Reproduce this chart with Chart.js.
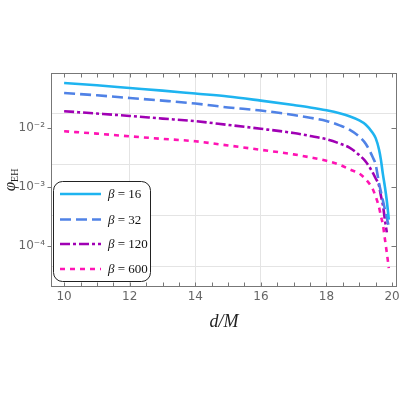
<!DOCTYPE html>
<html><head><meta charset="utf-8">
<script src="https://cdn.jsdelivr.net/npm/chart.js@4/dist/chart.umd.min.js"></script>
<style>html,body{margin:0;padding:0;background:#fff;}#wrap{width:400px;height:400px;}</style>
</head><body><div id="wrap"><canvas id="c" width="400" height="400"></canvas></div>
<script>
// ---- data ----
const distances   = [10, 11, 12, 13, 14, 15, 16, 17, 17.5, 18, 18.4, 18.7, 19.0, 19.2, 19.4, 19.5, 19.6, 19.66, 19.72, 19.78, 19.84, 19.9];
const phiBeta16   = [0.0589, 0.0537, 0.0484, 0.0437, 0.0389, 0.0347, 0.0295, 0.0248, 0.0226, 0.0202, 0.0180, 0.0160, 0.0136, 0.0115, 0.0085, 0.0068, 0.0044, 0.0029, 0.00166, 0.00102, 0.00058, 0.00028];
const phiBeta32   = [0.0398, 0.0363, 0.0327, 0.0295, 0.0263, 0.0226, 0.0200, 0.0168, 0.0151, 0.0133, 0.0112, 0.0095, 0.0072, 0.0054, 0.0033, 0.0024, 0.00117, 0.00083, 0.00059, 0.00042, 0.00030, 0.00021];
const phiBeta120  = [0.0195, 0.0178, 0.0162, 0.0146, 0.0132, 0.0114, 0.0098, 0.0083, 0.0074, 0.0065, 0.0055, 0.0047, 0.0035, 0.0027, 0.0018, 0.0014, 0.00107, 0.00071, 0.00050, 0.00028, 0.00017, null];
const phiBeta600  = [0.0089, 0.0081, 0.0073, 0.0066, 0.0060, 0.0051, 0.0043, 0.0036, 0.0032, 0.0028, 0.0024, 0.0020, 0.0017, 0.00135, 0.00095, 0.00069, 0.00046, 0.00032, 0.00023, 0.000132, 0.000076, 0.000042];
const betaLabels  = ['16', '32', '120', '600'];
const xTickValues = [10, 12, 14, 16, 18, 20];
const xGridValues = [12, 14, 16, 18];
const yTickValues = [1e-4, 1e-3, 1e-2];
const yTickLabels = ['10⁻⁴', '10⁻³', '10⁻²'];
const yGridValues = [0.018, 0.0025, 0.00034, 0.000046];
const xMinorTicks = [10, 10.5, 11, 11.5, 12, 12.5, 13, 13.5, 14, 14.5, 15, 15.5, 16, 16.5, 17, 17.5, 18, 18.5, 19, 19.5, 20];

const seriesValues = [phiBeta16, phiBeta32, phiBeta120, phiBeta600];
const styles = [
  {color: 'rgb(30,180,240)', dash: []},
  {color: 'rgb(80,130,230)', dash: [11, 5]},
  {color: 'rgb(160,0,180)', dash: [10, 3, 3, 3]},
  {color: 'rgb(255,20,180)', dash: [5, 5]}
];

const datasets = seriesValues.map((vals, k) => ({
  label: betaLabels[k],
  data: distances.map((d, i) => ({x: d, y: vals[i]})),
  borderColor: styles[k].color,
  backgroundColor: styles[k].color,
  borderDash: styles[k].dash,
  borderWidth: 2.6,
  borderCapStyle: 'butt',
  pointRadius: 0,
  fill: false,
  cubicInterpolationMode: 'monotone'
}));

const gridPlugin = {
  id: 'ygrid',
  beforeDatasetsDraw(chart) {
    const {ctx, chartArea: a, scales: {y}} = chart;
    ctx.save();
    ctx.strokeStyle = '#e4e4e4';
    ctx.lineWidth = 1;
    yGridValues.forEach(v => {
      const py = Math.round(y.getPixelForValue(v)) + 0.5;
      ctx.beginPath(); ctx.moveTo(a.left, py); ctx.lineTo(a.right, py); ctx.stroke();
    });
    ctx.restore();
  }
};

const legendPlugin = {
  id: 'boxLegend',
  afterDatasetsDraw(chart) {
    const ctx = chart.ctx;
    const bx = 53.5, by = 181.5, bw = 97, bh = 100, r = 9;
    ctx.save();
    ctx.beginPath();
    ctx.moveTo(bx + r, by);
    ctx.arcTo(bx + bw, by, bx + bw, by + bh, r);
    ctx.arcTo(bx + bw, by + bh, bx, by + bh, r);
    ctx.arcTo(bx, by + bh, bx, by, r);
    ctx.arcTo(bx, by, bx + bw, by, r);
    ctx.closePath();
    ctx.fillStyle = '#fff';
    ctx.fill();
    ctx.strokeStyle = '#222';
    ctx.lineWidth = 1;
    ctx.stroke();
    const rows = [194, 219.5, 244, 269];
    chart.data.datasets.forEach((ds, k) => {
      const yy = rows[k];
      ctx.beginPath();
      ctx.setLineDash(ds.borderDash);
      ctx.lineCap = 'butt';
      ctx.strokeStyle = ds.borderColor;
      ctx.lineWidth = 2.6;
      ctx.moveTo(60, yy); ctx.lineTo(101, yy); ctx.stroke();
      ctx.setLineDash([]);
      ctx.fillStyle = '#111';
      ctx.textBaseline = 'middle';
      ctx.textAlign = 'left';
      ctx.font = 'italic 13px "Liberation Serif"';
      ctx.fillText('β', 108, yy + 1);
      const wb = ctx.measureText('β').width;
      ctx.font = '13px "Liberation Serif"';
      ctx.fillText(' = ' + ds.label, 108 + wb, yy + 1);
    });
    ctx.restore();
  }
};

const framePlugin = {
  id: 'frame',
  afterDraw(chart) {
    const {ctx, chartArea: a, scales: {x, y}} = chart;
    ctx.save();
    ctx.strokeStyle = '#777';
    ctx.lineWidth = 1;
    const L = Math.round(a.left) + 0.5, R = Math.round(a.right) - 0.5;
    const T = Math.round(a.top) + 0.5, B = Math.round(a.bottom) - 0.5;
    ctx.strokeRect(L, T, R - L, B - T);
    ctx.beginPath();
    xMinorTicks.forEach(v => {
      const px = Math.round(x.getPixelForValue(v)) + 0.5;
      ctx.moveTo(px, T); ctx.lineTo(px, T + 4);
      ctx.moveTo(px, B); ctx.lineTo(px, B - 4);
    });
    yTickValues.forEach(v => {
      const py = Math.round(y.getPixelForValue(v)) + 0.5;
      ctx.moveTo(R, py); ctx.lineTo(R - 5, py);
      ctx.moveTo(L, py); ctx.lineTo(L - 4, py);
    });
    ctx.stroke();
    // y axis title: phi_EH, rotated
    ctx.translate(15, 180);
    ctx.rotate(-Math.PI / 2);
    ctx.fillStyle = '#222';
    ctx.textBaseline = 'alphabetic';
    ctx.font = 'italic 17px "Liberation Serif"';
    const wp = ctx.measureText('φ').width;
    ctx.font = '10px "Liberation Serif"';
    const we = ctx.measureText('EH').width;
    const sx = -(wp + we) / 2;
    ctx.font = 'italic 17px "Liberation Serif"';
    ctx.fillText('φ', sx, 0);
    ctx.font = '10px "Liberation Serif"';
    ctx.fillText('EH', sx + wp, 3);
    ctx.restore();
  }
};

new Chart(document.getElementById('c'), {
  type: 'line',
  data: {datasets},
  options: {
    responsive: false,
    devicePixelRatio: 1,
    animation: false,
    layout: {padding: {left: 0, top: 73, right: 3, bottom: 65}},
    plugins: {legend: {display: false}, tooltip: {enabled: false}},
    scales: {
      x: {
        type: 'linear', min: 9.6, max: 20.15,
        afterBuildTicks: s => { s.ticks = xTickValues.map(v => ({value: v})); },
        afterFit: s => { s.height = 48; s.paddingLeft = 0; s.paddingRight = 0; },
        grid: {
          drawOnChartArea: true, drawTicks: false, lineWidth: 1,
          color: c => (c.tick && xGridValues.includes(c.tick.value)) ? '#e4e4e4' : 'rgba(0,0,0,0)'
        },
        border: {display: false},
        ticks: {padding: 3, color: '#666', maxRotation: 0, font: {family: '"DejaVu Sans"', size: 12}, callback: v => String(v)},
        title: {display: true, text: 'd/M', color: '#222', padding: {top: 0, bottom: 2},
                font: {family: '"Liberation Serif"', size: 18, style: 'italic'}}
      },
      y: {
        type: 'logarithmic', min: 2e-5, max: 0.087,
        afterBuildTicks: s => { s.ticks = yTickValues.map(v => ({value: v})); },
        afterFit: s => { s.width = 51; s.paddingTop = 0; s.paddingBottom = 0; },
        grid: {drawOnChartArea: false, drawTicks: false},
        border: {display: false},
        ticks: {padding: 6, color: '#666', font: {family: '"DejaVu Sans"', size: 12},
                callback: (v, i) => yTickLabels[i]}
      }
    }
  },
  plugins: [gridPlugin, legendPlugin, framePlugin]
});
</script>
</body></html>
